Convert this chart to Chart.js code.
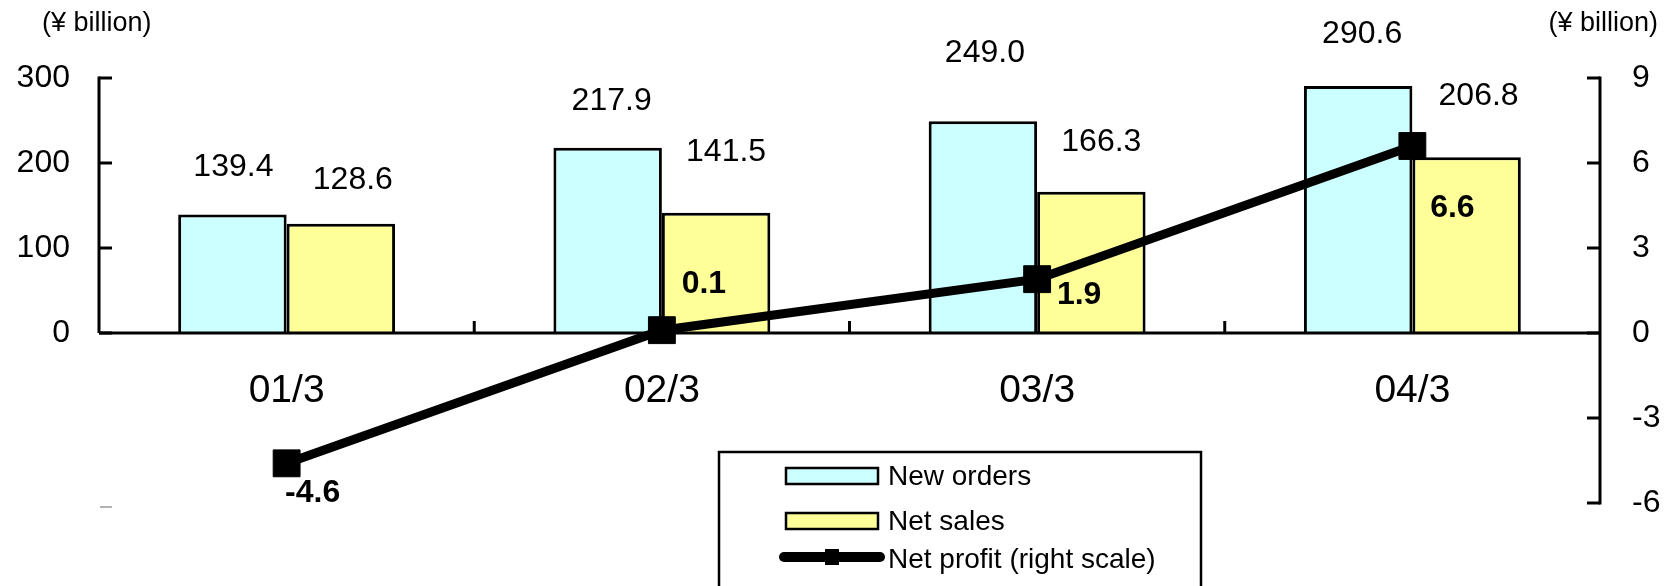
<!DOCTYPE html>
<html>
<head>
<meta charset="utf-8">
<script src="https://cdn.jsdelivr.net/npm/chart.js@4/dist/chart.umd.min.js"></script>
<style>
  html, body { margin: 0; padding: 0; background: #fff; }
  #wrap { width: 1675px; height: 586px; position: relative; }
</style>
</head>
<body>
<div id="wrap"><canvas id="chart"></canvas></div>
<script>
// data
const categories = ["01/3", "02/3", "03/3", "04/3"];
const newOrders = [139.4, 217.9, 249.0, 290.6];
const netSales = [128.6, 141.5, 166.3, 206.8];
const netProfit = [-4.6, 0.1, 1.9, 6.6];
const leftTicks = [0, 100, 200, 300];
const rightTicks = [-6, -3, 0, 3, 6, 9];
const seriesNames = ["New orders", "Net sales", "Net profit (right scale)"];

const FONT = "'Liberation Sans', Arial, sans-serif";

// hand placed label nudges, as in the original sheet
const barLabelNudge = [
  [[1, -47], [4, -47], [2, -68], [4, -52]],
  [[12, -44], [10, -61], [10, -49], [12, -61]],
];
const profitLabelNudge = [[26, 30], [42, -46], [42, 16], [40, 62]];

const axesPlugin = {
  id: "axesPlugin",
  afterDraw(chart) {
    const ctx = chart.ctx;
    const x = chart.scales.x, y = chart.scales.y, y1 = chart.scales.y1;
    const area = chart.chartArea;
    const zero = y.getPixelForValue(0);
    ctx.save();
    ctx.strokeStyle = "#000";
    ctx.lineWidth = 3;
    ctx.lineCap = "butt";

    // left axis (0..300 only)
    ctx.beginPath();
    ctx.moveTo(area.left, y.getPixelForValue(leftTicks[0]));
    ctx.lineTo(area.left, y.getPixelForValue(leftTicks[leftTicks.length - 1]) - 1.5);
    ctx.stroke();
    leftTicks.forEach((v) => {
      const py = y.getPixelForValue(v);
      ctx.beginPath();
      ctx.moveTo(area.left, py);
      ctx.lineTo(area.left + 13, py);
      ctx.stroke();
    });
    // faint leftover tick at the bottom of the left scale
    ctx.save();
    ctx.strokeStyle = "#999";
    ctx.lineWidth = 1.5;
    ctx.beginPath();
    ctx.moveTo(area.left + 1, y.getPixelForValue(y.min) + 4);
    ctx.lineTo(area.left + 13, y.getPixelForValue(y.min) + 4);
    ctx.stroke();
    ctx.restore();

    // right axis
    ctx.beginPath();
    ctx.moveTo(area.right, y1.getPixelForValue(rightTicks[0]) + 1.5);
    ctx.lineTo(area.right, y1.getPixelForValue(rightTicks[rightTicks.length - 1]) - 1.5);
    ctx.stroke();
    rightTicks.forEach((v) => {
      const py = y1.getPixelForValue(v);
      ctx.beginPath();
      ctx.moveTo(area.right, py);
      ctx.lineTo(area.right - 13, py);
      ctx.stroke();
    });

    // category axis at zero
    ctx.beginPath();
    ctx.moveTo(area.left, zero);
    ctx.lineTo(area.right, zero);
    ctx.stroke();
    for (let i = 0; i < categories.length - 1; i++) {
      const bx = (x.getPixelForValue(i) + x.getPixelForValue(i + 1)) / 2;
      ctx.beginPath();
      ctx.moveTo(bx, zero);
      ctx.lineTo(bx, zero - 12);
      ctx.stroke();
    }

    // tick labels
    ctx.fillStyle = "#000";
    ctx.font = "32px " + FONT;
    ctx.textBaseline = "middle";
    ctx.textAlign = "right";
    leftTicks.forEach((v) => ctx.fillText(String(v), area.left - 29, y.getPixelForValue(v)));
    ctx.textAlign = "left";
    rightTicks.forEach((v) => ctx.fillText(String(v), area.right + 32, y1.getPixelForValue(v)));

    // unit captions
    ctx.font = "27px " + FONT;
    ctx.textAlign = "left";
    ctx.fillText("(\u00a5 billion)", 42, 24);
    ctx.textAlign = "right";
    ctx.fillText("(\u00a5 billion)", 1658, 24);

    // category labels
    ctx.font = "39px " + FONT;
    ctx.textAlign = "center";
    categories.forEach((c, i) => ctx.fillText(c, x.getPixelForValue(i), zero + 58));

    // bar value labels
    ctx.font = "32px " + FONT;
    [0, 1].forEach((di) => {
      const meta = chart.getDatasetMeta(di);
      const vals = chart.data.datasets[di].data;
      meta.data.forEach((bar, i) => {
        const n = barLabelNudge[di][i];
        ctx.fillText(vals[i].toFixed(1), bar.x + n[0], bar.y + n[1]);
      });
    });

    // profit labels
    ctx.font = "bold 32px " + FONT;
    const lm = chart.getDatasetMeta(2);
    lm.data.forEach((pt, i) => {
      const n = profitLabelNudge[i];
      ctx.fillText(netProfit[i].toFixed(1), pt.x + n[0], pt.y + n[1]);
    });

    // legend box
    const lx = 719, ly = 452, lw = 482;
    ctx.lineWidth = 2.5;
    ctx.strokeRect(lx, ly, lw, 200);
    const sw = 92, sx = 786;
    const rows = [476, 521, 557];
    ctx.font = "28px " + FONT;
    ctx.textAlign = "left";
    [0, 1].forEach((di) => {
      const ds = chart.data.datasets[di];
      ctx.fillStyle = ds.backgroundColor;
      ctx.fillRect(sx, rows[di] - 8, sw, 16);
      ctx.lineWidth = 2.5;
      ctx.strokeRect(sx, rows[di] - 8, sw, 16);
      ctx.fillStyle = "#000";
      ctx.fillText(ds.label, 888, rows[di] + 1);
    });
    ctx.lineWidth = 10;
    ctx.lineCap = "round";
    ctx.beginPath();
    ctx.moveTo(sx - 2, rows[2]);
    ctx.lineTo(sx + sw + 2, rows[2]);
    ctx.stroke();
    ctx.fillRect(sx + sw / 2 - 7, rows[2] - 8, 14, 16);
    ctx.fillText(chart.data.datasets[2].label, 888, rows[2] + 3);

    ctx.restore();
  },
};

const ctx = document.getElementById("chart").getContext("2d");
new Chart(ctx, {
  data: {
    labels: categories,
    datasets: [
      {
        type: "bar",
        label: seriesNames[0],
        data: newOrders,
        backgroundColor: "#CCFFFF",
        borderColor: "#000",
        borderWidth: 3,
        yAxisID: "y",
        order: 2,
      },
      {
        type: "bar",
        label: seriesNames[1],
        data: netSales,
        backgroundColor: "#FFFF99",
        borderColor: "#000",
        borderWidth: 3,
        yAxisID: "y",
        order: 2,
      },
      {
        type: "line",
        label: seriesNames[2],
        data: netProfit,
        borderColor: "#000",
        backgroundColor: "#000",
        borderWidth: 9,
        pointStyle: "rect",
        pointRadius: 19,
        pointBorderWidth: 1,
        pointBackgroundColor: "#000",
        tension: 0,
        yAxisID: "y1",
        order: 0,
      },
    ],
  },
  options: {
    responsive: true,
    maintainAspectRatio: false,
    animation: false,
    layout: {
      padding: { left: 99, right: 75, top: 78, bottom: 83 },
    },
    datasets: {
      bar: { categoryPercentage: 0.578, barPercentage: 1.0 },
    },
    scales: {
      x: { display: false, offset: true },
      y: { display: false, min: -200, max: 300 },
      y1: { display: false, min: -6, max: 9, position: "right" },
    },
    plugins: {
      legend: { display: false },
      tooltip: { enabled: false },
    },
  },
  plugins: [axesPlugin],
});
</script>
</body>
</html>
